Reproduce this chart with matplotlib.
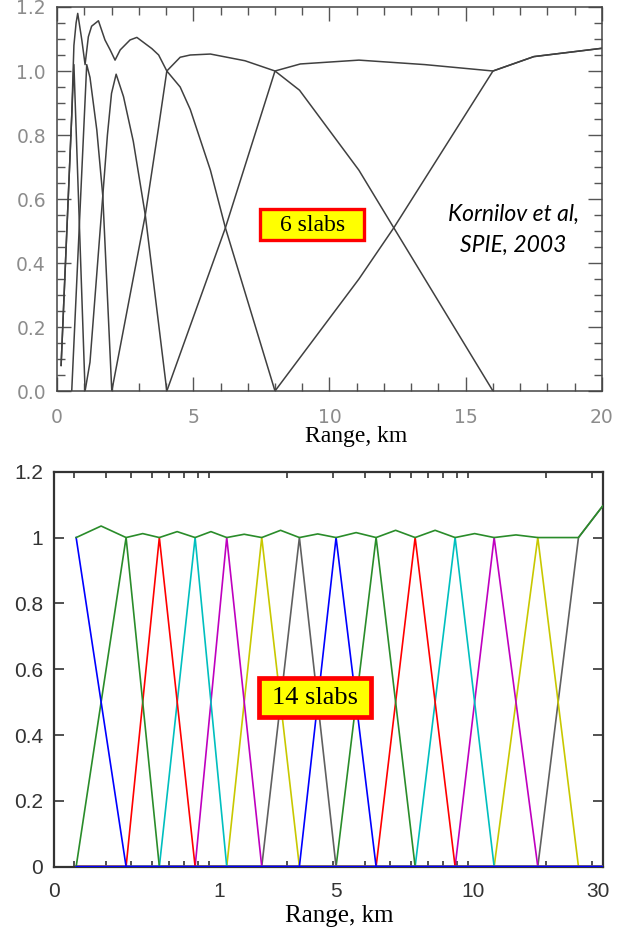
import numpy as np
import matplotlib
matplotlib.use("Agg")
import matplotlib.pyplot as plt
from matplotlib.ticker import MultipleLocator, LogLocator, NullFormatter, FormatStrFormatter
from matplotlib.patches import Rectangle

# ---- 6 slabs (linear range axis) ----
w05_x = [0.15, 0.62, 1.03]
w05_y = [0.08, 1.02, 0.0]
w1_x = [0.54, 1.09, 1.21, 1.46, 1.68, 2.01]
w1_y = [0.0, 1.02, 0.98, 0.816, 0.61, 0.0]
w2_x = [1.03, 1.21, 1.68, 1.85, 2.0, 2.17, 2.44, 2.8, 3.24, 4.03]
w2_y = [0.0, 0.09, 0.61, 0.80, 0.93, 0.99, 0.92, 0.78, 0.55, 0.0]
w4_x = [2.01, 3.24, 3.72, 4.03, 4.52, 4.89, 5.63, 6.18, 8.0]
w4_y = [0.0, 0.55, 0.82, 1.0, 0.95, 0.88, 0.69, 0.51, 0.0]
w8_x = [4.03, 6.18, 8.0, 8.9, 11.08, 12.36, 16.0]
w8_y = [0.0, 0.51, 1.0, 0.94, 0.69, 0.51, 0.0]
w16_x = [8.0, 11.08, 12.36, 16.0, 17.5, 20.0]
w16_y = [0.0, 0.35, 0.51, 1.0, 1.045, 1.071]
sum6_x = [0.15, 0.54, 0.62, 0.70, 0.76, 0.91, 1.03, 1.15, 1.27, 1.52, 1.76, 1.95,
          2.13, 2.32, 2.68, 2.93, 3.48, 3.73, 4.03, 4.52, 4.89, 5.63, 6.9, 8.0,
          8.93, 11.08, 13.5, 16.0, 17.5, 20.0]
sum6_y = [0.08, 0.86, 1.08, 1.15, 1.18, 1.097, 1.02, 1.107, 1.14, 1.157, 1.097, 1.066,
          1.034, 1.066, 1.097, 1.105, 1.07, 1.05, 1.0, 1.043, 1.05, 1.053, 1.032, 1.0,
          1.022, 1.034, 1.02, 1.0, 1.045, 1.071]

# ---- 14 slabs (log range axis) ----
nodes14 = [0.306, 0.477, 0.641, 0.881, 1.167, 1.593, 2.226, 3.084, 4.402, 6.228,
           8.885, 12.57, 18.53, 26.6]
range_end = 33.0
end_value = 1.096
sum14_x = [0.306, 0.382, 0.477, 0.553, 0.641, 0.751, 0.881, 1.014, 1.167, 1.363,
           1.593, 1.883, 2.226, 2.62, 3.084, 3.685, 4.402, 5.236, 6.228, 7.439,
           8.885, 10.57, 12.57, 15.26, 18.53, 22.2, 26.6, 33.0]
sum14_y = [1.0, 1.035, 1.0, 1.012, 1.0, 1.018, 1.0, 1.018, 1.0, 1.01,
           1.0, 1.022, 1.0, 1.011, 1.0, 1.015, 1.0, 1.022, 1.0, 1.022,
           1.0, 1.012, 1.0, 1.008, 1.0, 1.0, 1.0, 1.096]
x_tick_pos = [0.252, 1.09, 3.08, 10.4, 31.7]
x_tick_lab = ['0', '1', '5', '10', '30']
y_tick_pos = [0, 0.2, 0.4, 0.6, 0.8, 1.0, 1.2]
y_tick_lab = ['0', '0.2', '0.4', '0.6', '0.8', '1', '1.2']

matlab_colors = ['#0000ff', '#2a8c2a', '#ff0000', '#00bfbf', '#bf00bf', '#c8c800', '#606060']

fig = plt.figure(figsize=(6.3, 9.33), dpi=100)

# top panel
ax1 = fig.add_axes([0.0905, 0.5809, 0.865, 0.4116])
line_kw = dict(color='#404040', lw=1.1)
for xs, ys in [(w05_x, w05_y), (w1_x, w1_y), (w2_x, w2_y), (w4_x, w4_y),
               (w8_x, w8_y), (w16_x, w16_y), (sum6_x, sum6_y)]:
    ax1.plot(xs, ys, **line_kw)
ax1.set_xlim(0, 20)
ax1.set_ylim(0, 1.2)
ax1.xaxis.set_major_locator(MultipleLocator(5))
ax1.xaxis.set_minor_locator(MultipleLocator(1))
ax1.yaxis.set_major_locator(MultipleLocator(0.2))
ax1.yaxis.set_minor_locator(MultipleLocator(0.05))
ax1.yaxis.set_major_formatter(FormatStrFormatter('%.1f'))
ax1.tick_params(which='both', direction='in', top=True, right=True,
                color='#555555', labelcolor='#8c8c8c', labelsize=13.5, width=1)
ax1.tick_params(which='major', length=10, pad=8)
ax1.tick_params(which='minor', length=5.5)
ax1.tick_params(axis='x', which='major', pad=12)
for sp in ax1.spines.values():
    sp.set_color('#444444')
    sp.set_linewidth(1.1)
ax1.set_xlabel('Range, km', fontfamily='Liberation Serif', fontsize=17)
ax1.xaxis.set_label_coords(0.549, -0.092)

ax1.add_patch(Rectangle((0.373, 0.392), 0.191, 0.081, transform=ax1.transAxes,
                        facecolor='#ffff00', edgecolor='#ff0000', lw=2.4, zorder=4))
ax1.text(0.469, 0.432, '6 slabs', transform=ax1.transAxes, ha='center', va='center',
         fontfamily='Liberation Serif', fontsize=17, zorder=5)
ax1.text(0.837, 0.419, 'Kornilov et al,\nSPIE, 2003', transform=ax1.transAxes,
         ha='center', va='center', fontfamily='Lato', style='italic', fontsize=16.5,
         linespacing=1.6)

# bottom panel
ax2 = fig.add_axes([0.0862, 0.0711, 0.8705, 0.4233])
ax2.set_xscale('log')
grid14 = nodes14 + [range_end]
basis = np.eye(len(nodes14), len(grid14))
basis[-1, -1] = end_value
# blue slabs last so the zero level reads blue along the axis
order = [i for i in reversed(range(len(nodes14))) if i % 7 != 0] + [0, 7]
for i in order:
    ax2.plot(grid14, basis[i], color=matlab_colors[i % 7], lw=1.2, zorder=3)
ax2.plot(sum14_x, sum14_y, color=matlab_colors[1], lw=1.2, zorder=3)
ax2.set_xlim(0.252, range_end)
ax2.set_ylim(0, 1.2)
ax2.set_xticks(x_tick_pos, x_tick_lab)
ax2.xaxis.set_minor_locator(LogLocator(base=10, subs=np.arange(1, 10), numticks=20))
ax2.xaxis.set_minor_formatter(NullFormatter())
ax2.set_yticks(y_tick_pos, y_tick_lab)
ax2.tick_params(which='both', direction='in', top=True, right=True,
                color='#333333', labelcolor='#333333', labelsize=15)
ax2.tick_params(axis='x', which='major', length=0, pad=11)
ax2.tick_params(axis='x', which='minor', length=4, width=1.2)
ax2.tick_params(axis='y', which='major', length=7, width=1.2, pad=8)
for lab in ax2.get_xticklabels() + ax2.get_yticklabels():
    lab.set_fontfamily('Liberation Sans')
for sp in ax2.spines.values():
    sp.set_color('#333333')
    sp.set_linewidth(1.6)
ax2.set_xlabel('Range, km', fontfamily='Liberation Serif', fontsize=18)
ax2.xaxis.set_label_coords(0.519, -0.097)

ax2.add_patch(Rectangle((0.3736, 0.3777), 0.2035, 0.101, transform=ax2.transAxes,
                        facecolor='#ffff00', edgecolor='#ff0000', lw=3.4, zorder=4))
ax2.text(0.475, 0.428, '14 slabs', transform=ax2.transAxes, ha='center', va='center',
         fontfamily='Liberation Serif', fontsize=19, zorder=5)

fig.savefig('out.png', dpi=100)
